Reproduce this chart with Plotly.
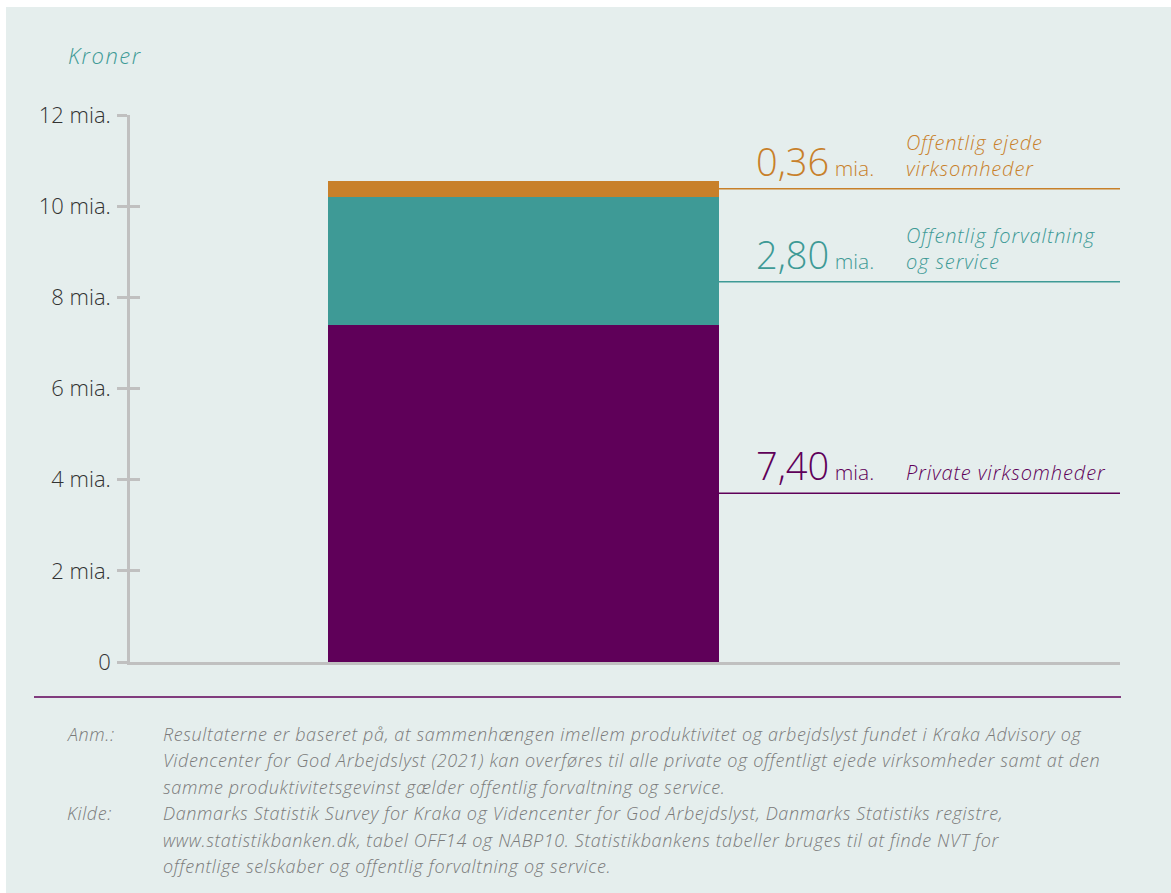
import plotly.graph_objects as go

# ---- data ----
categories = ["Gevinst"]
series_names = ["Private virksomheder", "Offentlig forvaltning og service", "Offentlig ejede virksomheder"]
series_labels = ["Private virksomheder", "Offentlig forvaltning<br>og service", "Offentlig ejede<br>virksomheder"]
series_values = [7.40, 2.80, 0.36]
value_text = ["7,40", "2,80", "0,36"]
series_colors = ["#5f0059", "#3e9a96", "#c8802a"]
label_line_y = [3.70, 8.34, 10.38]
tick_vals = [0, 2, 4, 6, 8, 10, 12]
tick_text = ["0", "2 mia.", "4 mia.", "6 mia.", "8 mia.", "10 mia.", "12 mia."]

BG = "#e5eeed"
FONT = "Open Sans"

W, H = 1171, 893
L, R, T, B = 130, 51, 115, 231
pw, ph = W - L - R, H - T - B

def px_x(px):
    return (px - L) / pw

def px_y(py):
    return (H - B - py) / ph

def ls(txt, sp):
    return f"<span style='letter-spacing:{sp}px'>{txt}</span>"

fig = go.Figure()
for name, v, c in zip(series_names, series_values, series_colors):
    fig.add_trace(go.Bar(x=[0], y=[v], name=name, marker=dict(color=c, line=dict(width=0)),
                         width=1.0, showlegend=False, hoverinfo="skip"))

fig.add_trace(go.Scatter(x=[0], y=[0], yaxis="y2", mode="markers",
                         marker=dict(opacity=0), showlegend=False, hoverinfo="skip"))

shapes = []
shapes.append(dict(type="rect", xref="paper", yref="paper", layer="below",
                   x0=px_x(6), x1=px_x(W + 5), y0=px_y(7), y1=px_y(H + 5),
                   fillcolor=BG, line=dict(width=0)))
shapes.append(dict(type="line", xref="paper", yref="paper",
                   x0=px_x(34), x1=px_x(1121), y0=px_y(697), y1=px_y(697),
                   line=dict(color="#5f0059", width=1.5)))

annotations = []
for v, c, ly, vt, lab in zip(series_values, series_colors, label_line_y, value_text, series_labels):
    shapes.append(dict(type="line", xref="x", yref="y", x0=0.5, x1=1.528, y0=ly, y1=ly,
                       line=dict(color=c, width=1.5)))
    annotations.append(dict(xref="paper", yref="y", x=px_x(876), y=ly, yshift=0,
                            xanchor="right", yanchor="bottom", showarrow=False,
                            text=f"<span style='font-size:38px'>{vt}</span> <span style='font-size:21px'>mia.</span>",
                            font=dict(family=FONT, color=c, size=21, weight=300)))
    annotations.append(dict(xref="paper", yref="y", x=px_x(904), y=ly, yshift=5,
                            xanchor="left", yanchor="bottom", showarrow=False, align="left",
                            text=f"<i>{ls(lab, 0.9)}</i>",
                            font=dict(family=FONT, color=c, size=20, weight=300)))

annotations.append(dict(xref="paper", yref="paper", x=px_x(66), y=px_y(55),
                        xanchor="left", yanchor="middle", showarrow=False,
                        text=f"<i>{ls('Kroner', 1.5)}</i>", font=dict(family=FONT, color="#3e9a96", size=22, weight=300)))

note_lines = [
    ("Anm.:", "Resultaterne er baseret på, at sammenhængen imellem produktivitet og arbejdslyst fundet i Kraka Advisory og"),
    ("", "Videncenter for God Arbejdslyst (2021) kan overføres til alle private og offentligt ejede virksomheder samt at den"),
    ("", "samme produktivitetsgevinst gælder offentlig forvaltning og service."),
    ("Kilde:", "Danmarks Statistik Survey for Kraka og Videncenter for God Arbejdslyst, Danmarks Statistiks registre,"),
    ("", "www.statistikbanken.dk, tabel OFF14 og NABP10. Statistikbankens tabeller bruges til at finde NVT for"),
    ("", "offentlige selskaber og offentlig forvaltning og service."),
]
for k, (lbl, txt) in enumerate(note_lines):
    yy = 734 + k * 26.4
    if lbl:
        annotations.append(dict(xref="paper", yref="paper", x=px_x(65), y=px_y(yy),
                                xanchor="left", yanchor="middle", showarrow=False,
                                text=f"<i>{ls(lbl, 0.6)}</i>", font=dict(family=FONT, color="#7a7a7a", size=18, weight=300)))
    annotations.append(dict(xref="paper", yref="paper", x=px_x(161), y=px_y(yy),
                            xanchor="left", yanchor="middle", showarrow=False,
                            text=f"<i>{ls(txt, 0.62)}</i>", font=dict(family=FONT, color="#7a7a7a", size=18, weight=300)))

fig.update_layout(
    width=W, height=H,
    margin=dict(l=L, r=R, t=T, b=B, pad=0),
    paper_bgcolor="white", plot_bgcolor=BG,
    barmode="stack", bargap=0,
    xaxis=dict(range=[-1.0064, 1.5256], showticklabels=False, showgrid=False, zeroline=False,
               showline=True, linecolor="#c0c0c0", linewidth=2.5, ticks="", fixedrange=True),
    yaxis=dict(range=[0, 12], tickvals=tick_vals, ticktext=tick_text, showgrid=False, zeroline=False,
               showline=True, linecolor="#c0c0c0", linewidth=2.5, ticks="outside", ticklen=10,
               tickcolor="#c0c0c0", tickwidth=2.5, ticklabelstandoff=2,
               tickfont=dict(family=FONT, color="#333333", size=22, weight=300)),
    yaxis2=dict(range=[0, 12], overlaying="y", side="left", tickvals=tick_vals, showticklabels=False,
                showgrid=False, zeroline=False, showline=False, ticks="inside", ticklen=10,
                tickcolor="#c0c0c0", tickwidth=2.5),
    shapes=shapes, annotations=annotations,
)

fig.write_html("out.html")
